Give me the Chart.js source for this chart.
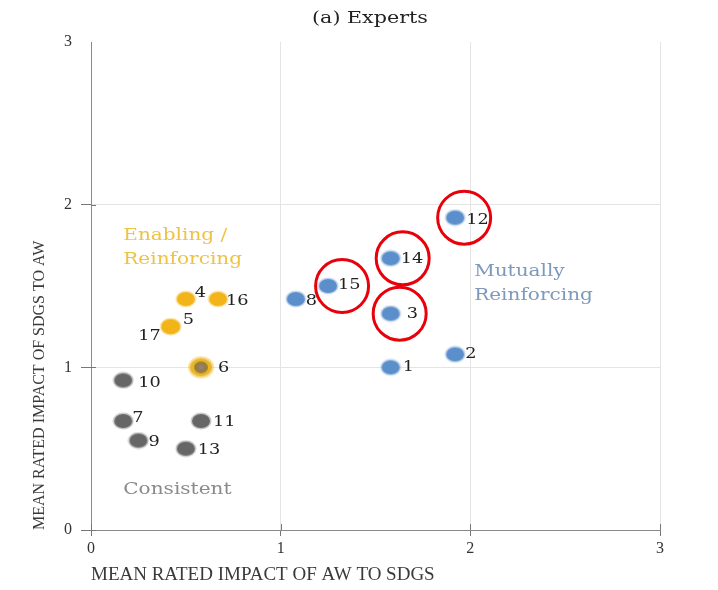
<!DOCTYPE html>
<html>
<head>
<meta charset="utf-8">
<script src="https://cdn.jsdelivr.net/npm/chart.js@4/dist/chart.umd.min.js"></script>
<style>
  body { margin: 0; background: #fff; }
  canvas { display: block; }
</style>
</head>
<body>
<canvas id="chart" width="718" height="590"></canvas>
<script>
// SDG number, mean rated impact of AW on the SDG (x) and of the SDG on AW (y)
const sdgIds   = [1, 2, 3, 4, 5, 6, 7, 8, 9, 10, 11, 12, 13, 14, 15, 16, 17];
const awToSdgs = [1.58, 1.92, 1.58, 0.50, 0.42, 0.58, 0.17, 1.08, 0.25, 0.17, 0.58, 1.92, 0.50, 1.58, 1.25, 0.67, 0.42];
const sdgsToAw = [1.00, 1.08, 1.33, 1.42, 1.25, 1.00, 0.67, 1.42, 0.55, 0.92, 0.67, 1.92, 0.50, 1.67, 1.50, 1.42, 1.25];
const sdgGroup = ['mutual', 'mutual', 'mutual', 'enabling', 'enabling', 'enabling', 'consistent', 'mutual',
                  'consistent', 'consistent', 'consistent', 'mutual', 'consistent', 'mutual', 'mutual', 'enabling', 'enabling'];
const circled  = [12, 14, 15, 3];
const axisTicks = [0, 1, 2, 3];

const titleText = '(a) Experts';
const xTitle = 'MEAN RATED IMPACT OF AW TO SDGS';
const yTitle = 'MEAN RATED IMPACT OF SDGS TO AW';

// group text blocks, anchored in data units
const groupNotes = [
  { lines: ['Enabling /', 'Reinforcing'], x: 0.17, y: 1.81, color: '#efc244' },
  { lines: ['Mutually', 'Reinforcing'],   x: 2.02, y: 1.59, color: '#7d99bb' },
  { lines: ['Consistent'],                x: 0.17, y: 0.25, color: '#8a8a8a' }
];

const groupColors = { consistent: '#666666', enabling: '#f2b418', mutual: '#5b8fcb' };
const drawOrder = ['consistent', 'enabling', 'mutual'];

// label offsets in px from the dot centre: [dx, dy, align]
const labelNudge = {
  1: [12, 0], 2: [10, 0], 3: [16, 0], 4: [9, -6], 5: [12, -7], 6: [17, 1],
  7: [9, -3], 8: [10, 2], 9: [10, 2], 10: [15, 3], 11: [12, 1], 12: [11, 2],
  13: [12, 1], 14: [10, 1], 15: [10, -1], 16: [8, 2], 17: [-10, 9, 'right']
};
const ringShift = { 12: 9, 14: 12, 15: 14, 3: 9 };
const STRETCH = 1.18;

function makeDot(color, w, h) {
  const c = document.createElement('canvas');
  c.width = w + 4; c.height = h + 4;
  const g = c.getContext('2d');
  g.fillStyle = color;
  g.globalAlpha = 0.35;
  g.beginPath(); g.ellipse(c.width / 2, c.height / 2, w / 2 + 1.5, h / 2 + 1.5, 0, 0, Math.PI * 2); g.fill();
  g.globalAlpha = 1;
  g.beginPath(); g.ellipse(c.width / 2, c.height / 2, w / 2, h / 2, 0, 0, Math.PI * 2); g.fill();
  return c;
}

// SDG 6 sits on both groups: yellow halo with the grey dot inside
function makeDoubleDot() {
  const c = document.createElement('canvas');
  c.width = 28; c.height = 24;
  const g = c.getContext('2d');
  g.fillStyle = 'rgba(242,180,24,0.45)';
  g.beginPath(); g.ellipse(14, 12, 13, 11, 0, 0, Math.PI * 2); g.fill();
  g.fillStyle = '#e9b628';
  g.beginPath(); g.ellipse(14, 12, 11, 9, 0, 0, Math.PI * 2); g.fill();
  g.fillStyle = 'rgba(120,108,70,0.75)';
  g.beginPath(); g.ellipse(14, 12, 7, 6, 0, 0, Math.PI * 2); g.fill();
  g.fillStyle = '#9a7a98';
  g.beginPath(); g.ellipse(14, 12, 2.5, 2, 0, 0, Math.PI * 2); g.fill();
  return c;
}

const dots = {};
drawOrder.forEach(k => { dots[k] = makeDot(groupColors[k], 18, 14); });
const doubleDot = makeDoubleDot();

const datasets = drawOrder.map(key => {
  const idx = sdgIds.map((_, i) => i).filter(i => sdgGroup[i] === key);
  return {
    label: key,
    ids: idx.map(i => sdgIds[i]),
    data: idx.map(i => ({ x: awToSdgs[i], y: sdgsToAw[i] })),
    pointStyle: ctx => ctx.dataset.ids[ctx.dataIndex] === 6 ? doubleDot : dots[key],
    pointRadius: 9,
    pointHoverRadius: 9
  };
});

function wideText(ctx, text, x, y, align) {
  ctx.save();
  ctx.translate(x, y);
  ctx.scale(STRETCH, 1);
  ctx.textAlign = align || 'left';
  ctx.textBaseline = 'middle';
  ctx.fillText(text, 0, 0);
  ctx.restore();
}

const notesPlugin = {
  id: 'notes',
  beforeDatasetsDraw(chart) {
    const ctx = chart.ctx, xs = chart.scales.x, ys = chart.scales.y;
    ctx.save();
    ctx.font = '17px "DejaVu Serif"';
    groupNotes.forEach(n => {
      ctx.fillStyle = n.color;
      const px = xs.getPixelForValue(n.x), py = ys.getPixelForValue(n.y);
      n.lines.forEach((t, k) => wideText(ctx, t, px, py + k * 24));
    });
    // inner half of the tick marks, so they cross the axis lines
    ctx.strokeStyle = '#777';
    ctx.lineWidth = 1;
    ctx.beginPath();
    axisTicks.forEach(v => {
      const px = Math.round(xs.getPixelForValue(v)) + 0.5;
      ctx.moveTo(px, ys.bottom); ctx.lineTo(px, ys.bottom - 6);
      if (v < 3) {
        const py = Math.round(ys.getPixelForValue(v)) + 0.5;
        ctx.moveTo(xs.left, py); ctx.lineTo(xs.left + 5, py);
      }
    });
    ctx.stroke();
    ctx.restore();
  },
  afterDatasetsDraw(chart) {
    const ctx = chart.ctx;
    ctx.save();
    chart.data.datasets.forEach((ds, i) => {
      chart.getDatasetMeta(i).data.forEach((pt, j) => {
        const id = ds.ids[j];
        const nudge = labelNudge[id] || [10, 0];
        ctx.font = '15px "DejaVu Serif"';
        ctx.fillStyle = '#222';
        wideText(ctx, String(id), pt.x + nudge[0], pt.y + nudge[1], nudge[2]);
        if (circled.includes(id)) {
          ctx.strokeStyle = '#e8000b';
          ctx.lineWidth = 3;
          ctx.beginPath();
          ctx.arc(pt.x + (ringShift[id] || 10), pt.y, 26.5, 0, Math.PI * 2);
          ctx.stroke();
        }
      });
    });
    ctx.restore();
  },
  afterDraw(chart) {
    const ctx = chart.ctx;
    ctx.save();
    ctx.font = '17.5px "DejaVu Serif"';
    ctx.fillStyle = '#222';
    wideText(ctx, titleText, 370, 18, 'center');
    ctx.restore();
  }
};

const tickFont = { family: 'Liberation Serif', size: 16 };

new Chart('chart', {
  type: 'scatter',
  data: { datasets: datasets },
  options: {
    responsive: false,
    animation: false,
    layout: { padding: { left: 0, right: 58, top: 42, bottom: 0 } },
    plugins: { legend: { display: false }, tooltip: { enabled: false } },
    scales: {
      x: {
        type: 'linear', min: 0, max: 3,
        afterBuildTicks: s => { s.ticks = axisTicks.map(v => ({ value: v })); },
        afterFit: s => { s.height = 60; },
        ticks: { font: tickFont, color: '#333', padding: 3 },
        grid: { color: '#e4e4e4', tickColor: '#777', tickLength: 6 },
        border: { color: '#8a8a8a' },
        title: { display: true, text: xTitle, align: 'start', font: { family: 'Liberation Serif', size: 19 }, color: '#3a3a3a', padding: { top: 0, bottom: 4 } }
      },
      y: {
        type: 'linear', min: 0, max: 3,
        afterBuildTicks: s => { s.ticks = axisTicks.map(v => ({ value: v })); },
        afterFit: s => { s.width = 91; },
        ticks: { font: tickFont, color: '#333', padding: 9 },
        grid: {
          color: c => c.tick && c.tick.value === 3 ? 'rgba(0,0,0,0)' : '#e4e4e4',
          tickColor: c => c.tick && c.tick.value === 3 ? 'rgba(0,0,0,0)' : '#777',
          tickLength: 10
        },
        border: { color: '#8a8a8a' },
        title: { display: true, text: yTitle, align: 'start', font: { family: 'Liberation Serif', size: 16 }, color: '#3a3a3a', padding: { top: 30, bottom: 30 } }
      }
    }
  },
  plugins: [notesPlugin]
});
</script>
</body>
</html>
